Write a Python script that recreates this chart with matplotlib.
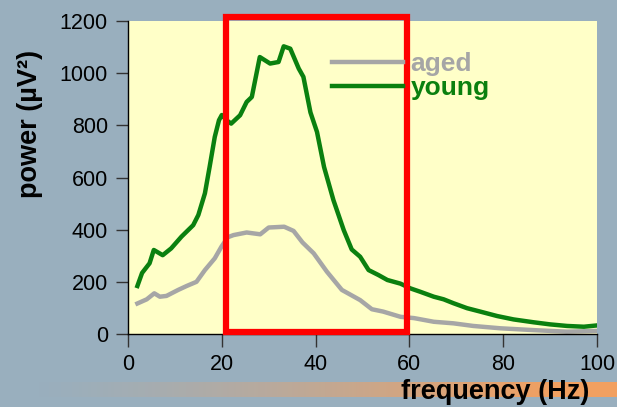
import numpy as np
import matplotlib
matplotlib.use('Agg')
import matplotlib.pyplot as plt
from matplotlib.patches import Rectangle

# power spectrum, young animals
young_hz = [2, 3, 4.6, 5.5, 7.4, 9.2, 11.4, 13.9, 15, 16.4, 17.4, 18.5, 19.4, 20,
            21, 22, 23.9, 25.3, 26.4, 28.1, 30.3, 32.1, 33.2, 34.6, 36.4, 37.4,
            38.9, 40.3, 41.8, 43.8, 46, 47.7, 49.5, 51.3, 53.4, 55.3, 58.1, 60.2,
            62.3, 65.2, 67.3, 69.4, 72.3, 75.1, 78.7, 82.2, 86.5, 90, 93.6, 97.2, 100]
young_pow = [185, 235, 272, 323, 303, 329, 374, 418, 457, 540, 641, 756, 820, 840,
             820, 807, 839, 890, 909, 1062, 1037, 1043, 1103, 1094, 1018, 986,
             850, 775, 641, 514, 399, 325, 297, 246, 227, 208, 194, 176,
             163, 144, 134, 119, 100, 87, 70, 57, 46, 38, 32, 29, 34]

# power spectrum, aged animals
aged_hz = [2, 4, 5.6, 6.8, 8.2, 10.7, 12.5, 14.6, 16.4, 18.5, 19.9, 21.3, 22.5,
           25.3, 28.2, 30, 33.3, 35.3, 37.2, 39.6, 42.4, 45.6, 49.5, 52, 54.4,
           58.1, 61, 65.2, 69.4, 73.6, 79.4, 86.5, 93.6, 100]
aged_pow = [118, 134, 157, 144, 147, 170, 185, 201, 246, 291, 335, 372, 380,
            390, 383, 409, 412, 396, 352, 310, 240, 170, 131, 96, 87,
            67, 62, 48, 42, 32, 23, 16, 10, 13]

# highlighted band (Hz)
band_lo, band_hi = 20.8, 59.4
band_top = 1214

xticks = [0, 20, 40, 60, 80, 100]
yticks = [0, 200, 400, 600, 800, 1000, 1200]

bg = '#99afbe'
plt.rcParams['font.family'] = ['Liberation Sans', 'DejaVu Sans']

fig = plt.figure(figsize=(6.17, 4.07), dpi=100, facecolor=bg)
ax = fig.add_axes([128/617, 1 - 334.3/407, 469/617, 313.3/407])
ax.set_facecolor('#ffffc8')

# orange fade bar behind the x label
bar = fig.add_axes([0, 1 - 397/407, 1, 15/407], zorder=-1)
grad = np.zeros((1, 256, 4))
t = np.linspace(0, 1, 256)
grad[0, :, 0] = 0.95
grad[0, :, 1] = 0.63
grad[0, :, 2] = 0.38
grad[0, :, 3] = np.clip((t - 0.05) / 0.85, 0, 1) ** 1.3
bar.imshow(grad, aspect='auto', extent=[0, 1, 0, 1])
bar.axis('off')

ax.plot(aged_hz, aged_pow, color='#a6a6a6', lw=3.2, label='aged', solid_joinstyle='round')
ax.plot(young_hz, young_pow, color='#0a800f', lw=3.2, label='young', solid_joinstyle='round')

ax.add_patch(Rectangle((band_lo, 7), band_hi - band_lo, band_top - 7,
                       fill=False, edgecolor='#ff0000', lw=4.5, clip_on=False,
                       zorder=5, joinstyle='miter'))

ax.set_xlim(0, 100)
ax.set_ylim(0, 1200)
ax.set_xticks(xticks)
ax.set_yticks(yticks)
ax.tick_params(direction='out', length=9, width=1, color='#333333',
               labelsize=15.5, pad=5.5)
for s in ['top', 'right']:
    ax.spines[s].set_visible(False)
ax.spines['left'].set_linewidth(1)
ax.spines['bottom'].set_linewidth(1)

ax.set_xlabel('frequency (Hz)', fontsize=19.5, fontweight='bold', ha='right')
ax.xaxis.set_label_coords((589 - 128) / 469, -0.143)
ax.set_ylabel('power (µV²)', fontsize=19.5, fontweight='bold')
ax.yaxis.set_label_coords(-0.181, 0.673)

leg = ax.legend(loc='upper left', bbox_to_anchor=(0.435, 0.90), frameon=False,
                handlelength=2.7, handletextpad=0.27,
                labelspacing=0.0, borderpad=0, borderaxespad=0,
                labelcolor='linecolor', prop={'weight': 'bold', 'size': 19})

fig.savefig('out.png', dpi=100, facecolor=bg)
